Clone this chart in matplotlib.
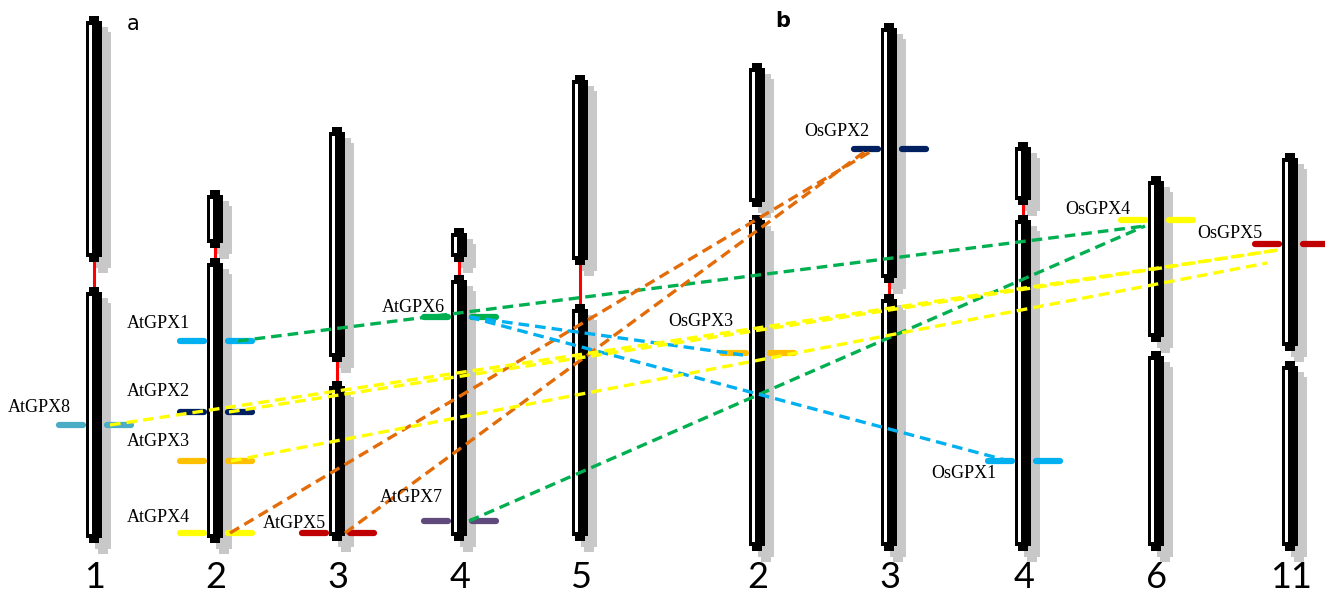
import matplotlib
matplotlib.use("Agg")
import matplotlib.pyplot as plt
from matplotlib.patches import Rectangle

# chromosomes: label, x centre (px), top, centromere start, centromere end, bottom, red centromere
chrom_names = ["1", "2", "3", "4", "5", "2", "3", "4", "6", "11"]
chrom_x = [94, 215, 337, 459, 580, 757, 889, 1023, 1156, 1290]
chrom_top = [16, 190, 127, 228, 75, 63, 23, 142, 176, 153]
cen_start = [262, 248, 362, 262, 265, 207, 283, 205, 342, 351]
cen_end = [287, 258, 381, 275, 304, 215, 294, 215, 351, 361]
chrom_bottom = [543, 543, 541, 541, 541, 551, 551, 551, 551, 551]
cen_red = [True, True, True, True, True, False, True, True, False, False]

# genes: name, chromosome index, position (px), colour
gene_names = ["AtGPX1", "AtGPX2", "AtGPX3", "AtGPX4", "AtGPX5", "AtGPX6", "AtGPX7", "AtGPX8",
              "OsGPX1", "OsGPX2", "OsGPX3", "OsGPX4", "OsGPX5"]
gene_chrom = [1, 1, 1, 1, 2, 3, 3, 0, 7, 6, 5, 8, 9]
gene_pos = [341, 412, 461, 533, 533, 317, 521, 425, 461, 149, 353, 220, 244]
gene_color = ["#00b0f0", "#002060", "#ffc000", "#ffff00", "#c00000", "#00b050", "#604a7b", "#4bacc6",
              "#00b0f0", "#002060", "#ffc000", "#ffff00", "#c00000"]
# label right edge relative to chromosome centre, and vertical offset from marker
label_dx = [-25, -25, -25, -25, -11, -14, -16, -23, -26, -20, -24, -26, -28]
label_dy = [-17, -21, -19, -16, -10, -10, -23, -18, 12, -17, -32, -11, -10]

# links: source gene, target gene, colour, offsets at both ends
link_src = ["AtGPX1", "AtGPX7", "AtGPX4", "AtGPX5", "AtGPX6", "AtGPX6", "AtGPX8", "AtGPX2", "AtGPX3"]
link_dst = ["OsGPX4", "OsGPX4", "OsGPX2", "OsGPX2", "OsGPX1", "OsGPX3", "OsGPX5", "OsGPX5", "OsGPX5"]
link_color = ["#00b050", "#00b050", "#e36c09", "#e36c09", "#00b0f0", "#00b0f0",
              "#ffff00", "#ffff00", "#ffff00"]
link_src_dx = [23, 10, 15, 8, 10, 10, 16, 14, 16]
link_dst_dx = [-11, -11, -19, -22, -14, -14, -12, -12, -23]
link_dst_dy = [6, 6, 3, 1, 0, 2, 6, 6, 19]

W, H = 1325, 597
fig = plt.figure(figsize=(W / 100, H / 100), dpi=100)
ax = fig.add_axes([0, 0, 1, 1])
ax.set_xlim(0, W)
ax.set_ylim(H, 0)
ax.axis("off")


def arm(cx, y0, y1, color, strip=True, z=2):
    # narrow end caps and main body
    ax.add_patch(Rectangle((cx - 5, y0), 10, y1 - y0, color=color, lw=0, zorder=z))
    ax.add_patch(Rectangle((cx - 8, y0 + 5), 16, y1 - y0 - 10, color=color, lw=0, zorder=z))
    if strip:
        ax.add_patch(Rectangle((cx - 5.5, y0 + 9), 3.2, y1 - y0 - 18, color="white", lw=0, zorder=z + 0.1))


for i in range(len(chrom_x)):
    cx = chrom_x[i]
    # grey shadow
    arm(cx + 9, chrom_top[i] + 11, cen_start[i] + 11, "#c8c8c8", False, 1)
    arm(cx + 9, cen_end[i] + 11, chrom_bottom[i] + 11, "#c8c8c8", False, 1)
    if cen_red[i]:
        ax.plot([cx, cx], [cen_start[i], cen_end[i]], color="red", lw=2.2, zorder=1.5)
    arm(cx, chrom_top[i], cen_start[i], "black")
    arm(cx, cen_end[i], chrom_bottom[i], "black")
    ax.text(cx + 1, 578, chrom_names[i], ha="center", va="center", fontsize=26, family="Lato")

ax.text(133, 24, "a", ha="center", va="center", fontsize=15, family="DejaVu Sans")
ax.text(783, 21, "b", ha="center", va="center", fontsize=15, family="DejaVu Sans", weight="bold")

gx = {}
gy = {}
for i, name in enumerate(gene_names):
    cx = chrom_x[gene_chrom[i]]
    y = gene_pos[i]
    gx[name] = cx
    gy[name] = y
    ax.plot([cx - 35, cx - 11], [y, y], color=gene_color[i], lw=4.5, solid_capstyle="round", zorder=3)
    ax.plot([cx + 13, cx + 37], [y, y], color=gene_color[i], lw=4.5, solid_capstyle="round", zorder=3)
    ax.text(cx + label_dx[i], y + label_dy[i], name, ha="right", va="center",
            fontsize=13, family="Liberation Serif", zorder=5)

for s, d, c, sdx, ddx, ddy in zip(link_src, link_dst, link_color, link_src_dx, link_dst_dx, link_dst_dy):
    ax.plot([gx[s] + sdx, gx[d] + ddx], [gy[s], gy[d] + ddy], color=c, lw=2.4,
            dashes=(3.2, 1.8), zorder=4)

fig.savefig("out.png", dpi=100)
